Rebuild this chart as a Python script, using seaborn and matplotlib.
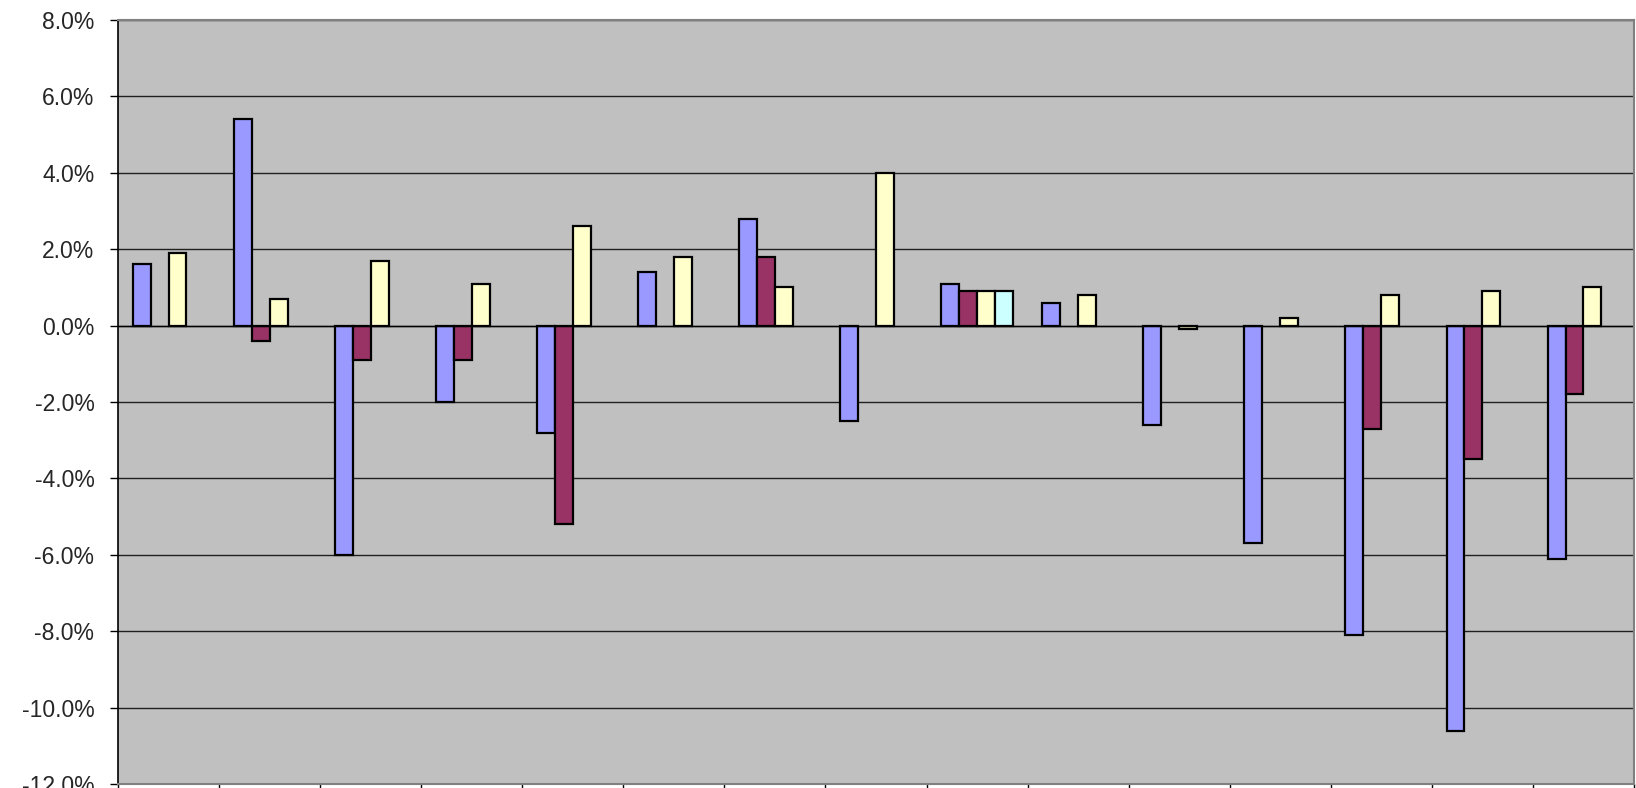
import numpy as np
import pandas as pd
import matplotlib
matplotlib.use("Agg")
import matplotlib.pyplot as plt
from matplotlib.ticker import FuncFormatter
import seaborn as sns

groups = [f"G{i}" for i in range(1, 16)]
series_names = ["S1", "S2", "S3", "S4"]
s1 = [1.6, 5.4, -6.0, -2.0, -2.8, 1.4, 2.8, -2.5, 1.1, 0.6, -2.6, -5.7, -8.1, -10.6, -6.1]
s2 = [np.nan, -0.4, -0.9, -0.9, -5.2, np.nan, 1.8, np.nan, 0.9, np.nan, np.nan, np.nan, -2.7, -3.5, -1.8]
s3 = [1.9, 0.7, 1.7, 1.1, 2.6, 1.8, 1.0, 4.0, 0.9, 0.8, -0.1, 0.2, 0.8, 0.9, 1.0]
s4 = [np.nan, np.nan, np.nan, np.nan, np.nan, np.nan, np.nan, np.nan, 0.9, np.nan, np.nan, np.nan, np.nan, np.nan, np.nan]
colors = ["#9999FF", "#993366", "#FFFFCC", "#CCFFFF"]

rows = []
for name, vals in zip(series_names, [s1, s2, s3, s4]):
    for g, v in zip(groups, vals):
        rows.append({"group": g, "series": name, "value": v})
df = pd.DataFrame(rows)

sns.set_style("white")
plt.rcParams["font.family"] = ["Liberation Sans", "DejaVu Sans"]

fig = plt.figure(figsize=(16.36, 7.88), dpi=100)
ax = fig.add_axes([118 / 1636, 4 / 788, (1634 - 118) / 1636, 764 / 788])
ax.set_facecolor("#C0C0C0")

sns.barplot(data=df.dropna(), x="group", y="value", hue="series",
            order=groups, hue_order=series_names, palette=colors,
            width=0.71, edgecolor="black", linewidth=1.6, saturation=1,
            legend=False, ax=ax)

ax.set_ylim(-12, 8)
ax.set_xlim(-0.5, len(groups) - 0.5)
ax.set_yticks(np.arange(-12, 8.1, 2))
ax.yaxis.set_major_formatter(FuncFormatter(lambda v, p: f"{v:.1f}%"))
ax.set_xticks(np.arange(-0.5, len(groups), 1.0))
ax.set_xticklabels([])
ax.set_xlabel("")
ax.set_ylabel("")
ax.set_axisbelow(True)
ax.yaxis.grid(True, color="#202020", linewidth=1.0)
ax.xaxis.grid(False)
ax.axhline(0, color="black", linewidth=1.0, zorder=1.5)

ax.tick_params(axis="y", direction="out", length=6, width=1, color="black",
               labelsize=16.5, pad=11, left=True)
ax.tick_params(axis="x", direction="out", length=6, width=1, color="black", bottom=True)
for side in ["top", "right", "bottom"]:
    ax.spines[side].set_color("#808080")
    ax.spines[side].set_linewidth(1.5)
ax.spines["left"].set_color("black")
ax.spines["left"].set_linewidth(1.2)

fig.savefig("out.png", dpi=100, facecolor="white")
